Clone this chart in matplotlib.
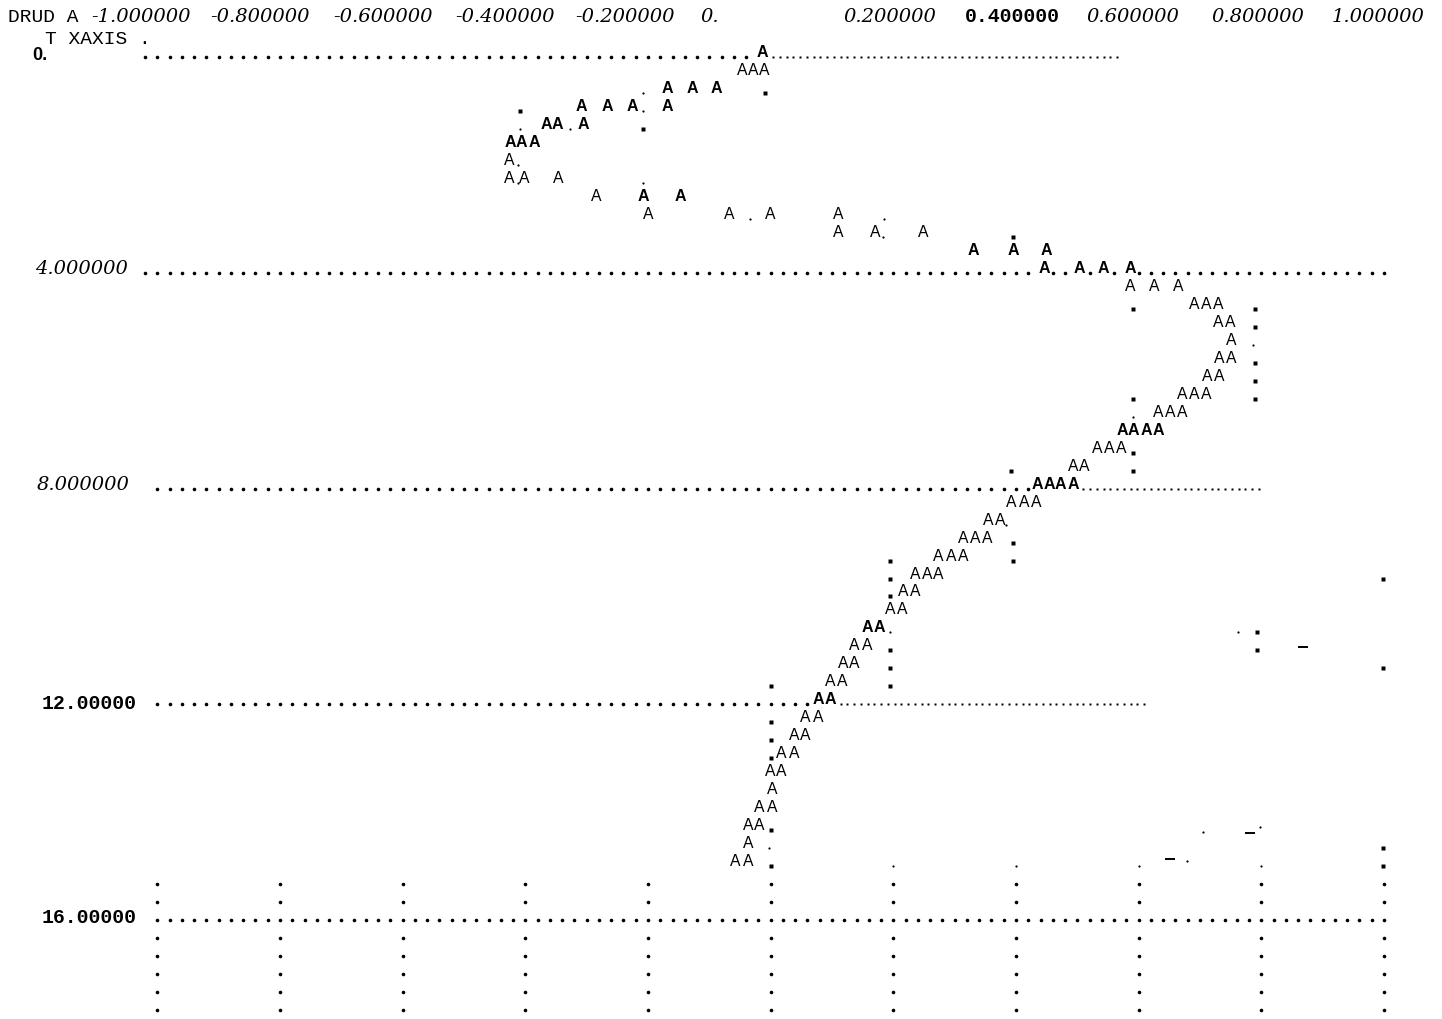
import matplotlib
matplotlib.use("Agg")
import matplotlib.pyplot as plt
import numpy as np
from matplotlib.transforms import offset_copy

# ---------------- data ----------------
x_ticks = [-1.0, -0.8, -0.6, -0.4, -0.2, 0.0, 0.2, 0.4, 0.6, 0.8, 1.0]
x_tick_labels = ["-1.000000", "-0.800000", "-0.600000", "-0.400000", "-0.200000", "0.",
                 "0.200000", "0.400000", "0.600000", "0.800000", "1.000000"]
t_ticks = [0, 4, 8, 12, 16]
t_tick_labels = ["0.", "4.000000", "8.000000", "12.00000", "16.00000"]

# series "A" points printed in regular type (T, XAXIS)
a_t = [0.333, 0.333, 0.333,
       2.0,
       2.333, 2.333, 2.333,
       2.667,
       3.0, 3.0, 3.0, 3.0,
       3.333, 3.333, 3.333,
       4.333, 4.333, 4.333,
       4.667, 4.667, 4.667,
       5.0, 5.0,
       5.333,
       5.667, 5.667,
       6.0, 6.0,
       6.333, 6.333, 6.333,
       6.667, 6.667, 6.667,
       7.333, 7.333, 7.333,
       7.667, 7.667,
       8.333, 8.333, 8.333,
       8.667, 8.667,
       9.0, 9.0, 9.0,
       9.333, 9.333, 9.333,
       9.667, 9.667, 9.667,
       10.0, 10.0,
       10.333, 10.333,
       11.0, 11.0,
       11.333, 11.333,
       11.667, 11.667,
       12.333, 12.333,
       12.667, 12.667,
       13.0, 13.0,
       13.333, 13.333,
       13.667,
       14.0, 14.0,
       14.333, 14.333,
       14.667,
       15.0, 15.0]
a_x = [-0.047, -0.029, -0.011,
       -0.427,
       -0.427, -0.402, -0.347,
       -0.285,
       -0.200, -0.068, -0.001, 0.110,
       0.110, 0.170, 0.248,
       0.586, 0.625, 0.664,
       0.690, 0.710, 0.729,
       0.729, 0.749,
       0.751,
       0.731, 0.751,
       0.711, 0.731,
       0.671, 0.690, 0.710,
       0.632, 0.651, 0.671,
       0.532, 0.552, 0.571,
       0.493, 0.512,
       0.393, 0.413, 0.433,
       0.354, 0.374,
       0.314, 0.333, 0.353,
       0.274, 0.294, 0.314,
       0.235, 0.255, 0.274,
       0.216, 0.235,
       0.195, 0.214,
       0.137, 0.157,
       0.118, 0.137,
       0.097, 0.116,
       0.057, 0.077,
       0.038, 0.057,
       0.018, 0.038,
       -0.001, 0.018,
       0.002,
       -0.018, 0.002,
       -0.037, -0.018,
       -0.037,
       -0.057, -0.037]

# series "A" points printed in heavy type
a_bold_t = [0.0,
            0.667, 0.667, 0.667,
            1.0, 1.0, 1.0, 1.0,
            1.333, 1.333, 1.333,
            1.667, 1.667, 1.667,
            2.667, 2.667,
            3.667, 3.667, 3.667,
            4.0, 4.0, 4.0, 4.0,
            7.0, 7.0, 7.0, 7.0,
            8.0, 8.0, 8.0, 8.0,
            10.667, 10.667,
            12.0, 12.0]
a_bold_x = [-0.013,
            -0.169, -0.128, -0.089,
            -0.308, -0.267, -0.226, -0.169,
            -0.366, -0.347, -0.306,
            -0.425, -0.406, -0.386,
            -0.208, -0.147,
            0.330, 0.395, 0.449,
            0.446, 0.504, 0.543, 0.586,
            0.573, 0.592, 0.612, 0.632,
            0.434, 0.454, 0.473, 0.493,
            0.157, 0.177,
            0.077, 0.097]

# '.' marks printed as squares
mark_t = [0.667, 1.0, 1.333, 4.667, 4.667, 5.0, 5.667, 6.0, 6.333, 6.333,
          7.333, 7.667, 7.667, 9.0, 9.333, 9.333, 9.667, 9.667, 10.0,
          10.667, 11.0, 11.0, 11.333, 11.333, 11.667, 11.667,
          12.333, 12.667, 13.0, 14.333, 14.667, 15.0, 15.0, 3.333]
mark_x = [-0.010, -0.409, -0.208, 0.591, 0.790, 0.790, 0.790, 0.790, 0.591, 0.790,
          0.591, 0.392, 0.591, 0.395, 0.194, 0.395, 0.194, 0.998, 0.194,
          0.793, 0.194, 0.793, 0.194, 0.998, 0.194, 0.000,
          0.000, 0.000, 0.000, 0.000, 0.998, 0.000, 0.998, 0.395]

# small '.' specks
speck_t = [0.667, 1.0, 1.333, 1.333, 2.0, 2.333, 2.333, 3.0, 3.0, 3.333,
           5.333, 6.667, 8.667, 10.667, 10.667, 14.667,
           15.0, 15.0, 15.0, 15.0, 14.27, 14.37, 14.9]
speck_x = [-0.208, -0.208, -0.409, -0.327, -0.412, -0.412, -0.208, -0.034, 0.185, 0.183,
           0.786, 0.591, 0.384, 0.194, 0.762, -0.003,
           0.2, 0.4, 0.6, 0.8, 0.798, 0.705, 0.679]

# stray dashes
dash_t = [10.94, 14.87, 14.39]
dash_x = [0.868, 0.651, 0.782]

# dotted reference lines at each T tick: start, start of fine dots, end
grid_start = [-1.02, -1.02, -1.0, -1.0, -1.0]
grid_fine_from = [-0.013, 1.0, 0.493, 0.097, 1.0]
grid_end = [0.566, 1.0, 0.806, 0.618, 1.0]
# rows where the vertical dotted grid is printed
vgrid_t = [15.333, 15.667, 16.333, 16.667, 17.0, 17.333, 17.667]

# ---------------- layout ----------------
W, H, DPI = 1442, 1019, 100
X_M1_PX, X_P1_PX = 157.3, 1384.0
T0_PX, T16_PX = 57.3, 920.0
PX_PER_X = (X_P1_PX - X_M1_PX) / 2.0
PX_PER_T = (T16_PX - T0_PX) / 16.0


def x_at(px):
    return -1.0 + (px - X_M1_PX) / PX_PER_X


def t_at(py):
    return (py - T0_PX) / PX_PER_T


fig = plt.figure(figsize=(W / DPI, H / DPI), dpi=DPI)
fig.patch.set_facecolor("white")
ax = fig.add_axes([0, 0, 1, 1])
ax.set_xlim(x_at(0), x_at(W))
ax.set_ylim(t_at(H), t_at(0))
ax.axis("off")

K = "black"
ITALIC = dict(family="DejaVu Serif", style="italic", size=14)
BOLDMONO = dict(family="Liberation Mono", weight="bold", size=14.3)
MONO = dict(family="Liberation Mono", size=14)
BOLDSANS = dict(family="Liberation Sans", weight="bold", size=13)

# header
fig.text(8 / W, 1 - 17 / H, "DRUD A", ha="left", va="center", color=K, **MONO)
fig.text(45 / W, 1 - 40 / H, "T XAXIS .", ha="left", va="center", color=K, **MONO)

# top scale labels
label_dx_px = [-16, -20, -20, -20, -23, -61, -3, -4, -6, -4, -6]
label_style = [ITALIC] * 7 + [BOLDMONO] + [ITALIC] * 3
for xv, lab, dx, st in zip(x_ticks, x_tick_labels, label_dx_px, label_style):
    tr = offset_copy(ax.transData, fig=fig, x=dx, y=0, units="dots")
    ax.text(xv, t_at(17), lab, transform=tr, ha="center", va="center", color=K, **st)

# row labels
row_style = [BOLDSANS, ITALIC, ITALIC, BOLDMONO, BOLDMONO]
row_left_px = [32, 35, 37, 42, 42]
row_dy_px = [2, 4, 4, 1, 3]
for tv, lab, st, lx, dy in zip(t_ticks, t_tick_labels, row_style, row_left_px, row_dy_px):
    tr = offset_copy(ax.transData, fig=fig, x=0, y=dy, units="dots")
    ax.text(x_at(lx), tv, lab, transform=tr, ha="left", va="center", color=K, **st)

# dotted horizontal lines
COL = 0.02
all_t = np.array(a_t + a_bold_t)
all_x = np.array(a_x + a_bold_x)
for tv, xs, xf, xe in zip(t_ticks, grid_start, grid_fine_from, grid_end):
    stop = min(xf, xe)
    n = int(np.floor((stop - xs) / COL + 1e-6))
    heavy = xs + COL * np.arange(n + 1)
    row_a = all_x[np.isclose(all_t, tv)]
    if len(row_a):
        keep = np.array([np.all(np.abs(row_a - h) > 0.013) for h in heavy])
        heavy = heavy[keep]
    ax.plot(heavy, np.full(len(heavy), tv), ls="none", marker="o", ms=2.6,
            color=K, mec="none")
    if xf < xe:
        fine = np.arange(xf + 0.017, xe, 0.011)
        ax.plot(fine, np.full(len(fine), tv), ls="none", marker="s", ms=1.6,
                color=K, mec="none")

# dotted vertical grid at the bottom
gx, gt = np.meshgrid(x_ticks, vgrid_t)
ax.plot(gx.ravel(), gt.ravel(), ls="none", marker="o", ms=2.6, color=K, mec="none")

# '.' marks
ax.plot(mark_x, mark_t, ls="none", marker="s", ms=2.9, color=K, mec="none")
ax.plot(speck_x, speck_t, ls="none", marker="o", ms=1.6, color=K, mec="none")
ax.plot(dash_x, dash_t, ls="none", marker="_", ms=7, mew=1.4, color=K)

# the "A" symbols
for xv, tv in zip(a_x, a_t):
    ax.text(xv, tv, "A", ha="center", va="baseline", color=K,
            family="Liberation Sans", size=11.3)
for xv, tv in zip(a_bold_x, a_bold_t):
    ax.text(xv, tv, "A", ha="center", va="baseline", color=K,
            family="Liberation Sans", weight="bold", size=11.5)

fig.savefig("out.png", dpi=DPI, facecolor="white")
